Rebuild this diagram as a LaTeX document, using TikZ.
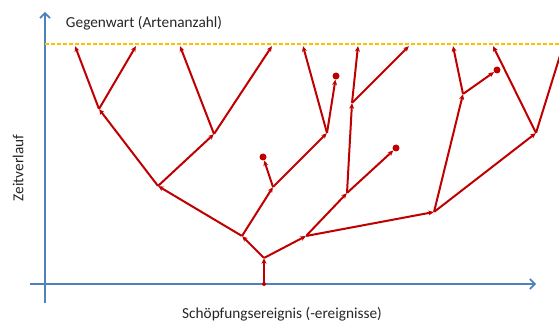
\documentclass[tikz,border=0pt]{standalone}
\usepackage{fontspec}
\setmainfont{Carlito}
\usetikzlibrary{arrows.meta}
\definecolor{axisblue}{HTML}{4F81BD}
\definecolor{treered}{HTML}{C00000}
\definecolor{nowyellow}{HTML}{FFC000}
\begin{document}
\begin{tikzpicture}[x=1pt,y=-1pt,
  edge/.style={draw=treered,line width=2pt,-{Stealth[length=5.5pt,width=5pt]}},
  deadend/.style={circle,fill=treered,inner sep=0pt,minimum size=7pt},
  pt/.style={inner sep=0pt,minimum size=0pt},
  axis/.style={draw=axisblue,line width=2pt,-{Straight Barb[length=5pt,width=10pt,line width=1.6pt]}},
  lbl/.style={font=\fontsize{15.3}{18}\selectfont,text=black!85}]
\clip (0,0) rectangle (559,323);
% axes
\coordinate (yb) at (45,303);
\coordinate (yt) at (45,12);
\coordinate (xl) at (30,284);
\coordinate (xr) at (536,284);
\draw[axis] (yb) -- (yt);
\draw[axis] (xl) -- (xr);
% present line
\coordinate (nl) at (45,44);
\coordinate (nr) at (559,44);
\draw[nowyellow,line width=1.5pt,dash pattern=on 4pt off 2pt] (nl) -- (nr);
% labels
\node[lbl] (tnow) at (144,23) {Gegenwart (Artenanzahl)};
\node[lbl,rotate=90] (ttime) at (18,168) {Zeitverlauf};
\node[lbl] (tcre) at (282,314) {Schöpfungsereignis (-ereignisse)};
% tree nodes
\node[pt] (root) at (264,284) {};
\node[pt] (A) at (264,258) {};
\node[pt] (B) at (242,236) {};
\node[pt] (C) at (306,236) {};
\node[pt] (D) at (158,186) {};
\node[pt] (E) at (273,187) {};
\node[pt] (F) at (99,109) {};
\node[pt] (G) at (214,134) {};
\node[pt] (H) at (327,133) {};
\node[pt] (I) at (347,193) {};
\node[pt] (J) at (434,212) {};
\node[pt] (K) at (352,103) {};
\node[pt] (L) at (463,94) {};
\node[pt] (M) at (536,133) {};
% leaves
\node[pt] (l1) at (75,46) {};
\node[pt] (l2) at (136,46) {};
\node[pt] (l3) at (180,46) {};
\node[pt] (l4) at (272,46) {};
\node[pt] (l5) at (303,46) {};
\node[pt] (l6) at (358,46) {};
\node[pt] (l7) at (409,46) {};
\node[pt] (l8) at (453,46) {};
\node[pt] (l9) at (493,46) {};
\node[pt] (l10) at (563,46) {};
% dead ends
\node[deadend] (d1) at (263,157) {};
\node[deadend] (d2) at (336,76) {};
\node[deadend] (d3) at (396,148) {};
\node[deadend] (d4) at (497,70) {};
\fill[treered] (root) circle (2pt);
% edges
\draw[edge] (root) -- (A);
\draw[edge] (A) -- (B);
\draw[edge] (A) -- (C);
\draw[edge] (B) -- (D);
\draw[edge] (B) -- (E);
\draw[edge] (D) -- (F);
\draw[edge] (D) -- (G);
\draw[edge] (F) -- (l1);
\draw[edge] (F) -- (l2);
\draw[edge] (G) -- (l3);
\draw[edge] (G) -- (l4);
\draw[edge] (E) -- (d1);
\draw[edge] (E) -- (H);
\draw[edge] (H) -- (l5);
\draw[edge] (H) -- (d2);
\draw[edge] (C) -- (I);
\draw[edge] (C) -- (J);
\draw[edge] (I) -- (K);
\draw[edge] (I) -- (d3);
\draw[edge] (K) -- (l6);
\draw[edge] (K) -- (l7);
\draw[edge] (J) -- (L);
\draw[edge] (J) -- (M);
\draw[edge] (L) -- (l8);
\draw[edge] (L) -- (d4);
\draw[edge] (M) -- (l9);
\draw[edge] (M) -- (l10);
\end{tikzpicture}
\end{document}
